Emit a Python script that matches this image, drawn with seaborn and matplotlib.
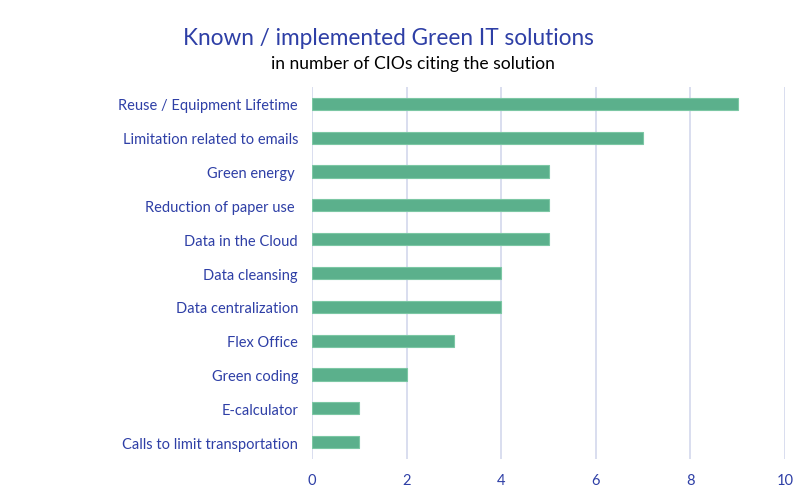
import matplotlib
matplotlib.use("Agg")
import matplotlib.pyplot as plt
import seaborn as sns
import pandas as pd

categories = ["Reuse / Equipment Lifetime", "Limitation related to emails", "Green energy ",
              "Reduction of paper use ", "Data in the Cloud", "Data cleansing",
              "Data centralization", "Flex Office", "Green coding", "E-calculator",
              "Calls to limit transportation"]
values = [9, 7, 5, 5, 5, 4, 4, 3, 2, 1, 1]
xticks = [0, 2, 4, 6, 8, 10]

sns.set_theme(style="white")
plt.rcParams['font.family'] = ['Lato', 'DejaVu Sans']

blue = "#2E3FA6"
df = pd.DataFrame({"cat": categories, "val": values})

fig = plt.figure(figsize=(8, 4.89), dpi=100)
ax = fig.add_axes([0.39, 0.0593, 0.59125, 0.7607])
sns.barplot(data=df, x="val", y="cat", color="#5BB08C", width=0.36,
            edgecolor="#7CC7A4", linewidth=0.8, saturation=1, ax=ax)
ax.set_xlim(0, 10)
ax.set_ylim(10.5, -0.5)
ax.set_xticks(xticks)
ax.set_xticklabels([str(t) for t in xticks])
ax.grid(axis="x", color="#D3D8EC", linewidth=1.2)
ax.set_axisbelow(True)
for s in ax.spines.values():
    s.set_visible(False)
ax.set_xlabel("")
ax.set_ylabel("")
ax.tick_params(axis="y", length=0, pad=10, labelsize=10.5, labelcolor=blue)
ax.tick_params(axis="x", length=0, pad=10, labelsize=10.5, labelcolor=blue)

fig.text(0.485, 0.922, "Known / implemented Green IT solutions", ha="center", va="center",
         fontsize=16.3, color=blue)
fig.text(0.516, 0.869, "in number of CIOs citing the solution", ha="center", va="center",
         fontsize=12.6, color="black")

fig.savefig("out.png", dpi=100)
